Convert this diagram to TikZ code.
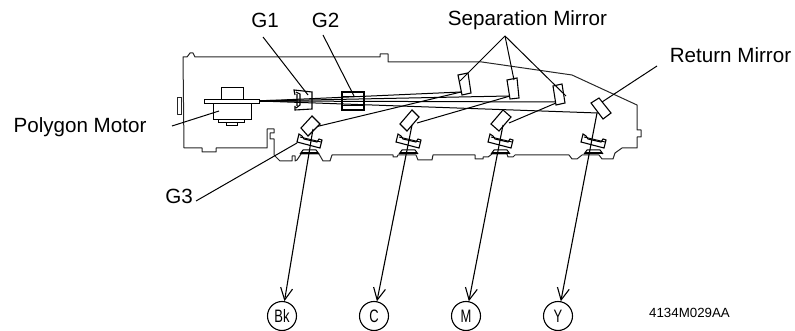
\documentclass[tikz,border=0pt]{standalone}
\usepackage{fontspec}
\setmainfont{Liberation Sans}
\usetikzlibrary{arrows.meta}
\tikzset{
  housing/.style={line width=1pt,line join=round,draw=black!85},
  part/.style={line width=1.1pt,line join=miter,fill=white},
  motorpart/.style={line width=0.9pt,line join=miter,fill=white},
  beam/.style={line width=1pt},
  lead/.style={line width=1pt},
  lbl/.style={font=\fontsize{20.6}{22}\selectfont,inner sep=0pt,anchor=base},
  drum/.style={circle,draw,line width=1.1pt,minimum size=29pt,inner sep=0pt,font=\fontsize{18}{20}\selectfont},
  toDrum/.style={line width=1.1pt,-{Straight Barb[length=12pt,width=12pt,line width=1.1pt]}}
}
\begin{document}
\begin{tikzpicture}[x=1pt,y=-1pt]
\useasboundingbox (0,0) rectangle (795,331);
% housing
\draw[housing] (183,57) -- (187,57) -- (190,53) -- (193,53) -- (195,57) -- (380,57) -- (380,54) -- (388,54) -- (388,62) -- (482,62) -- (572,75) -- (637,105) -- (637,130) -- (641,130) -- (641,137) -- (637,137) -- (637,148) -- (622,148) -- (615,153) -- (613,159) -- (602,159) -- (599,155) -- (582,155) -- (577,159) -- (572,159) -- (569,155) -- (515,155) -- (513,157) -- (508,157) -- (507,154) -- (492,154) -- (488,157) -- (483,157) -- (483,159) -- (475,159) -- (475,155) -- (433,155) -- (432,160) -- (418,160) -- (416,155) -- (398,155) -- (397,157) -- (393,157) -- (393,155) -- (332,155) -- (330,161) -- (323,161) -- (319,154) -- (301,154) -- (297,160) -- (295,161) -- (295,156) -- (292,156) -- (292,161) -- (280,161) -- (274,155) -- (274,139) -- (270,139) -- (270,133) -- (274,133) -- (274,129) -- (267,129) -- (267,148) -- (216,148) -- (216,152) -- (202,152) -- (202,148) -- (184,148) -- cycle;
\draw[housing] (182,98) -- (177,98) -- (177,115) -- (182,115) (181,98) -- (181,114);
% beams
\coordinate (src) at (259,101);
\draw[beam] (src) -- (461,92);
\draw[beam] (src) -- (509,96);
\draw[beam] (src) -- (556,102);
\draw[beam] (src) -- (598,113);
\draw[beam] (461,92) -- (315,127);
\draw[beam] (510,96) -- (417,123);
\draw[beam] (556,103) -- (509,123);
\draw[line width=1.8pt] (src) -- (296,100.5);
% motor
\draw[motorpart] (221,87) rectangle (243,99);
\draw[motorpart] (226,122) rectangle (237,125);
\draw[motorpart] (218,119) rectangle (244,122);
\draw[motorpart] (213,103) rectangle (251,119);
\draw[motorpart] (204,99) rectangle (259,103);
% G1
\draw[line width=1.1pt] (295,95) -- (294,90) -- (312,92) -- (312,109) -- (295,110) -- (295,106) (296,92) -- (300,94) -- (300,105) -- (296,108) (297,94) -- (297,106);
% G2
\draw[line width=1.1pt] (342,92) rectangle (364,110);
\draw[line width=0.7pt] (342,96) -- (364,96) (342,105) -- (364,105);
% mirrors
\draw[part] (458,75) -- (468,73) -- (471,93) -- (462,95) -- cycle;
\draw[part] (507,80) -- (517,78) -- (519,98) -- (510,99) -- cycle;
\draw[part] (553,86) -- (562,84) -- (565,103) -- (556,105) -- cycle;
\draw[part] (591,103) -- (599,98) -- (611,113) -- (603,119) -- cycle;
\draw[part] (301,128) -- (312,116) -- (320,124) -- (308,136) -- cycle;
\draw[part] (400,124) -- (412,110) -- (419,117) -- (407,131) -- cycle;
\draw[part] (491,124) -- (503,110) -- (511,117) -- (499,131) -- cycle;
% lenses
\foreach \dx in {0,99,191,284}{
\begin{scope}[xshift=\dx pt]
\draw[part] (297,142) -- (299,134) -- (302,136) -- (304,139) -- (317,142) -- (319,139) -- (322,140) -- (320,148) -- cycle;
\draw[line width=0.9pt] (300,137) -- (321,142);
\draw[line width=1pt,fill=white] (300,154) -- (303,150) -- (316,150) -- (319,154);
\draw[line width=1.3pt] (301,153) -- (318,153);
\end{scope}}
% drums
\node[drum] (bk) at (282,316) {\scalebox{0.72}[1]{Bk}};
\node[drum] (c) at (374,316) {\scalebox{0.72}[1]{C}};
\node[drum] (m) at (466,316) {\scalebox{0.72}[1]{M}};
\node[drum] (y) at (558,316) {\scalebox{0.72}[1]{Y}};
\coordinate (fb) at (313,129); \coordinate (fc) at (412,125); \coordinate (fm) at (503,125); \coordinate (fy) at (597,113);
\draw[toDrum] (fb) -- (bk);
\draw[toDrum] (fc) -- (c);
\draw[toDrum] (fm) -- (m);
\draw[toDrum] (fy) -- (y);
% labels
\node[lbl] (g1) at (265,28) {G1};
\node[lbl] (g2) at (325.5,28) {G2};
\node[lbl] (sm) at (527.5,26) {Separation Mirror};
\node[lbl] (rm) at (730.5,63) {Return Mirror};
\node[lbl] (pm) at (80,133) {Polygon Motor};
\node[lbl] (g3) at (179,204) {G3};
\node[font=\fontsize{13.3}{15}\selectfont,inner sep=0pt,anchor=base] (code) at (689.5,317) {4134M029AA};
% leaders
\coordinate (apex) at (505,36);
\coordinate (lg1) at (263,37); \coordinate (lg2) at (323,35);
\coordinate (lrm) at (657,66); \coordinate (lpm) at (172,126); \coordinate (lg3) at (196,201);
\draw[lead] (apex) -- (460,81);
\draw[lead] (apex) -- (514,80);
\draw[lead] (apex) -- (566,96);
\draw[lead] (lg1) -- (308,95);
\draw[lead] (lg2) -- (354,96);
\draw[lead] (lrm) -- (602,102);
\draw[lead] (lpm) -- (219,111);
\draw[lead] (lg3) -- (297,143);
\end{tikzpicture}
\end{document}
